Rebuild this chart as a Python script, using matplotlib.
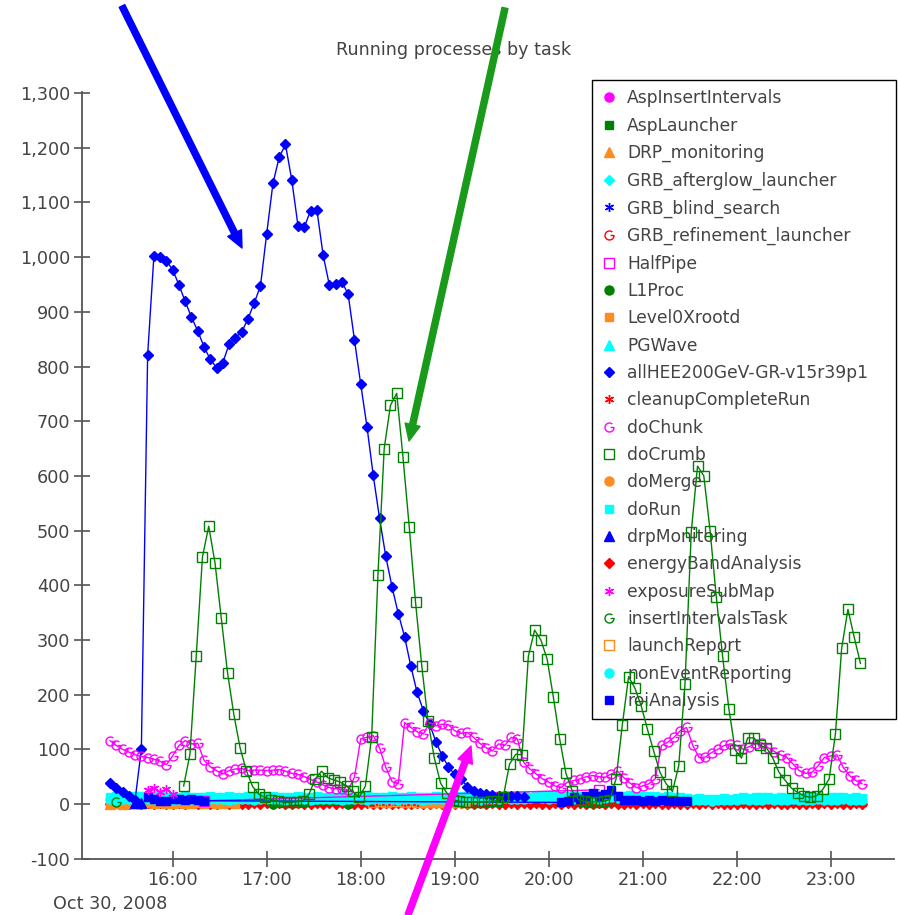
import matplotlib
matplotlib.use("Agg")
import matplotlib.pyplot as plt
import matplotlib.dates as mdates
import matplotlib.ticker as mticker
from matplotlib.lines import Line2D
from matplotlib.path import Path
from matplotlib.patches import FancyArrowPatch
import numpy as np

# samples every 4 minutes starting 15:20
t0 = np.datetime64("2008-10-30T15:20")
times = t0 + np.arange(121) * np.timedelta64(4, "m")

all_hee = [38, 30, 22, 15, 8, 100, 821, 1002, 1001, 993,
           977, 949, 919, 890, 865, 836, 813, 798, 807, 841,
           853, 863, 887, 916, 947, 1043, 1135, 1183, 1206, 1141,
           1057, 1055, 1085, 1087, 1004, 949, 950, 955, 932, 849,
           768, 690, 601, 523, 453, 397, 348, 306, 252, 204,
           171, 146, 114, 88, 68, 54, 46, 32, 23, 21,
           18, 16, 15, 15, 14, 14, 13]

do_chunk = [116, 107, 100, 95, 90, 87, 85, 82, 78, 72,
            88, 107, 116, 110, 111, 80, 68, 61, 55, 61,
            64, 65, 61, 62, 62, 61, 62, 63, 60, 56,
            54, 50, 45, 40, 35, 30, 28, 27, 25, 49,
            119, 122, 125, 103, 67, 41, 37, 149, 140, 132,
            128, 149, 143, 146, 145, 134, 129, 131, 122, 111,
            103, 97, 110, 107, 122, 119, 76, 64, 55, 46,
            40, 33, 30, 40, 43, 46, 50, 52, 50, 49,
            55, 60, 48, 38, 30, 33, 37, 46, 107, 113,
            122, 134, 140, 107, 85, 86, 94, 100, 107, 110,
            107, 100, 105, 110, 112, 103, 96, 90, 85, 73,
            61, 56, 58, 70, 85, 88, 90, 67, 52, 43, 37]

# doCrumb starts at sample 12
do_crumb = [33, 91, 270, 452, 508, 441, 340, 240, 164, 103,
            61, 32, 18, 12, 8, 5, 3, 3, 4, 6,
            18, 46, 60, 48, 44, 40, 33, 23, 12, 33,
            123, 419, 650, 729, 751, 634, 506, 369, 252, 151,
            84, 38, 20, 8, 5, 4, 3, 3, 4, 5,
            6, 13, 73, 91, 90, 270, 318, 300, 265, 195,
            119, 56, 24, 8, 5, 4, 4, 5, 8, 46,
            145, 233, 212, 180, 137, 97, 58, 37, 23, 70,
            220, 498, 618, 600, 500, 378, 270, 174, 99, 84,
            121, 121, 107, 103, 84, 58, 43, 29, 21, 15,
            12, 15, 27, 46, 128, 285, 356, 305, 257]

do_run = [13, 14, 12, 13, 15, 14, 13, 12, 14, 13, 12, 13, 14, 13, 12, 13, 14, 12, 13, 14,
          13, 12, 14, 13, 12, 13, 14, 13, 12, 13, 14, 13, 12, 14, 13, 12, 13, 14, 13, 12,
          13, 14, 13, 12, 13, 14, 12, 13, 14, 13, 12, 13, 14, 13, 12, 13, 14, 15, 14, 13,
          14, 15, 14, 13, 14, 15, 14, 13, 14, 15, 16, 15, 14, 15, 16, 15, 14, 15, 16, 15,
          15, 14, 15, 16, 15, 14, 15, 14, 13, 14, 13, 12, 11, 10, 11, 10, 9, 10, 11, 10,
          11, 12, 11, 12, 13, 12, 11, 12, 11, 10, 11, 12, 13, 12, 11, 12, 13, 12, 11, 12, 11]

non_event = [9, 8, 9, 10, 9, 8, 9, 9, 10, 9, 8, 9, 10, 9, 8, 9, 9, 10, 9, 8,
             9, 10, 9, 8, 9, 9, 10, 9, 8, 9, 10, 9, 8, 9, 9, 10, 9, 8, 9, 10,
             9, 8, 9, 9, 10, 9, 8, 9, 10, 9, 8, 9, 9, 10, 9, 8, 9, 10, 9, 8,
             9, 9, 10, 11, 10, 9, 10, 11, 12, 11, 10, 11, 12, 11, 10, 11, 12, 11, 10, 11,
             12, 11, 10, 11, 10, 9, 10, 9, 8, 7, 8, 7, 6, 7, 8, 7, 6, 7, 8, 7,
             8, 9, 8, 7, 8, 9, 8, 7, 8, 9, 8, 7, 8, 9, 8, 7, 8, 9, 8, 7, 8]

energy_band = [0, 1, 0, 0, 1, 0, 2, 0, 1, 0, 0, 1, 0, 2, 0, 1, 0, 0, 1, 0,
               1, 0, 0, 1, 0, 2, 0, 1, 0, 0, 1, 0, 0, 1, 0, 2, 0, 1, 0, 0,
               0, 1, 0, 0, 2, 0, 1, 0, 0, 1, 0, 0, 1, 0, 2, 0, 1, 0, 0, 1,
               0, 1, 0, 0, 1, 0, 2, 0, 1, 0, 0, 1, 0, 2, 0, 1, 0, 0, 1, 0,
               1, 0, 0, 1, 0, 2, 0, 1, 0, 0, 1, 0, 0, 1, 0, 2, 0, 1, 0, 0,
               0, 1, 0, 0, 2, 0, 1, 0, 0, 1, 0, 0, 1, 0, 2, 0, 1, 0, 0, 1, 0]

roi_idx = list(range(6, 16)) + list(range(72, 93))
roi_val = [12, 10, 6, 5, 9, 10, 8, 9, 7, 6,
           3, 5, 12, 10, 14, 21, 15, 18, 26, 14, 8, 7, 8, 6, 7, 6, 7, 6, 5, 6, 5]

cleanup_idx = list(range(0, 16)) + [66, 70, 75, 80, 86, 92, 98, 104, 110, 116, 120]
cleanup_val = [1, 2, 1, 0, 2, 1, 0, 1, 2, 1, 0, 1, 2, 1, 3, 8,
               8, 1, 0, 2, 1, 0, 1, 2, 0, 1, 0]

expo_idx = [6, 7, 8, 9, 10]
expo_val = [25, 30, 22, 28, 18]

halfpipe_idx = [15, 78]
halfpipe_val = [6, 26]

level0_idx = list(range(0, 21))
level0_val = [0, 1, 0, 1, 0, 0, 1, 0, 1, 0, 0, 1, 0, 0, 1, 0, 1, 0, 0, 1, 0]

launch_idx = [42, 43, 44, 45, 46, 47, 48, 49]
launch_val = [4, 5, 4, 6, 5, 4, 5, 4]

merge_idx = [50, 51, 52, 53, 54, 55, 56, 57]
merge_val = [1, 2, 1, 2, 1, 2, 1, 1]

drp_mon_idx = [4, 5]
drp_mon_val = [1, 2]

drp_idx = [0, 1, 2, 3]
drp_val = [0, 1, 0, 1]

insert_idx = [1]
insert_val = [3]

l1_idx = [26, 38]
l1_val = [0, 0]

names = ["AspInsertIntervals", "AspLauncher", "DRP_monitoring", "GRB_afterglow_launcher",
         "GRB_blind_search", "GRB_refinement_launcher", "HalfPipe", "L1Proc", "Level0Xrootd",
         "PGWave", "allHEE200GeV-GR-v15r39p1", "cleanupCompleteRun", "doChunk", "doCrumb",
         "doMerge", "doRun", "drpMonitoring", "energyBandAnalysis", "exposureSubMap",
         "insertIntervalsTask", "launchReport", "nonEventReporting", "roiAnalysis"]

# marker for the open "G" like symbol
arc = Path.arc(50, 360)
g_path = Path(np.vstack([arc.vertices, [[0.25, 0.0]]]),
              list(arc.codes) + [Path.LINETO])

palette = ["#ff00ff", "#008000", "#ff8a1e", "#00ffff", "#0000ff", "#ff0000"]
shapes = [("o", True), ("s", True), ("^", True), ("D", True), ((6, 2, 0), False),
          (g_path, False), ("s", False)]
msizes = {"o": 6.5, "s": 6.2, "^": 6.5, "D": 4.6}


def style(k):
    c = palette[k % 6]
    m, filled = shapes[k % 7]
    ms = msizes.get(m, 6.5) if isinstance(m, str) else 6.5
    if m == "s" and not filled:
        ms = 7.0
    return dict(color=c, marker=m, markersize=ms, markeredgecolor=c,
                markerfacecolor=c if filled else "none", markeredgewidth=1.0)


fig = plt.figure(figsize=(8.98, 9.15), dpi=100)
ax = fig.add_axes([82.3 / 898, 1 - 858.7 / 915, (894 - 82.3) / 898, (858.7 - 92) / 915])


def draw(name, x, y, lw=1.0, z=2):
    k = names.index(name)
    ax.plot(x, y, linewidth=lw, zorder=z, **style(k))


def pick(idx):
    return times[np.array(idx)]


draw("energyBandAnalysis", times, energy_band)
draw("cleanupCompleteRun", pick(cleanup_idx), cleanup_val)
draw("Level0Xrootd", pick(level0_idx), level0_val)
draw("DRP_monitoring", pick(drp_idx), drp_val)
draw("L1Proc", pick(l1_idx), l1_val)
draw("doMerge", pick(merge_idx), merge_val)
draw("launchReport", pick(launch_idx), launch_val)
draw("nonEventReporting", times, non_event)
draw("doRun", times, do_run)
draw("HalfPipe", pick(halfpipe_idx), halfpipe_val)
draw("roiAnalysis", pick(roi_idx), roi_val)
draw("drpMonitoring", pick(drp_mon_idx), drp_mon_val)
draw("insertIntervalsTask", pick(insert_idx), insert_val)
draw("exposureSubMap", pick(expo_idx), expo_val)
draw("allHEE200GeV-GR-v15r39p1", times[:len(all_hee)], all_hee, z=3)
draw("doChunk", times, do_chunk, z=3)
draw("doCrumb", times[12:] - np.timedelta64(1, "m"), do_crumb, z=4)

ax.set_xlim(np.datetime64("2008-10-30T15:02:18"), np.datetime64("2008-10-30T23:40:24"))
ax.set_ylim(-100, 1302)
ax.yaxis.set_major_locator(mticker.MultipleLocator(100))
ax.yaxis.set_major_formatter(mticker.FuncFormatter(lambda v, p: f"{int(round(v)):,}"))
ax.xaxis.set_major_locator(mdates.HourLocator())
ax.xaxis.set_major_formatter(mdates.DateFormatter("%H:%M"))

for s in ["top", "right"]:
    ax.spines[s].set_visible(False)
for s in ["left", "bottom"]:
    ax.spines[s].set_color("#555555")
    ax.spines[s].set_linewidth(1.3)
ax.tick_params(direction="inout", length=11.5, width=1.2, color="#555555",
               labelcolor="#444444", labelsize=12.7, pad=3)

handles = [Line2D([], [], linestyle="none", **style(k)) for k in range(len(names))]
leg = ax.legend(handles, names, loc="upper left", mode="expand",
                bbox_to_anchor=(592 / 898, 1 - 722 / 915, (896 - 592) / 898, (722 - 80) / 915),
                bbox_transform=fig.transFigure, borderaxespad=0, frameon=True, fancybox=False,
                edgecolor="black", framealpha=1, fontsize=12.3, labelspacing=0.547,
                handlelength=0.9, handletextpad=0.6, borderpad=0.55, labelcolor="#444444")
leg.get_frame().set_linewidth(1.0)
leg.set_zorder(1.5)

fig.text(453.5 / 898, 1 - 50 / 915, "Running processes by task", ha="center", va="center",
         fontsize=12.6, color="#444444")
fig.text(53 / 898, 1 - 909 / 915, "Oct 30, 2008", ha="left", va="baseline",
         fontsize=12.7, color="#444444")


def arrow(x0, y0, x1, y1, c):
    a = FancyArrowPatch((x0 / 898, 1 - y0 / 915), (x1 / 898, 1 - y1 / 915),
                        transform=fig.transFigure, color=c, shrinkA=0, shrinkB=0,
                        arrowstyle="simple,head_length=0.6,head_width=0.55,tail_width=0.22",
                        mutation_scale=20, zorder=10)
    fig.add_artist(a)


arrow(122, 6, 242, 248, "#0000ff")
arrow(505, 8, 409, 441, "#1a9a1a")
arrow(408, 915, 471, 746, "#ff00ff")

fig.savefig("out.png", dpi=100)
